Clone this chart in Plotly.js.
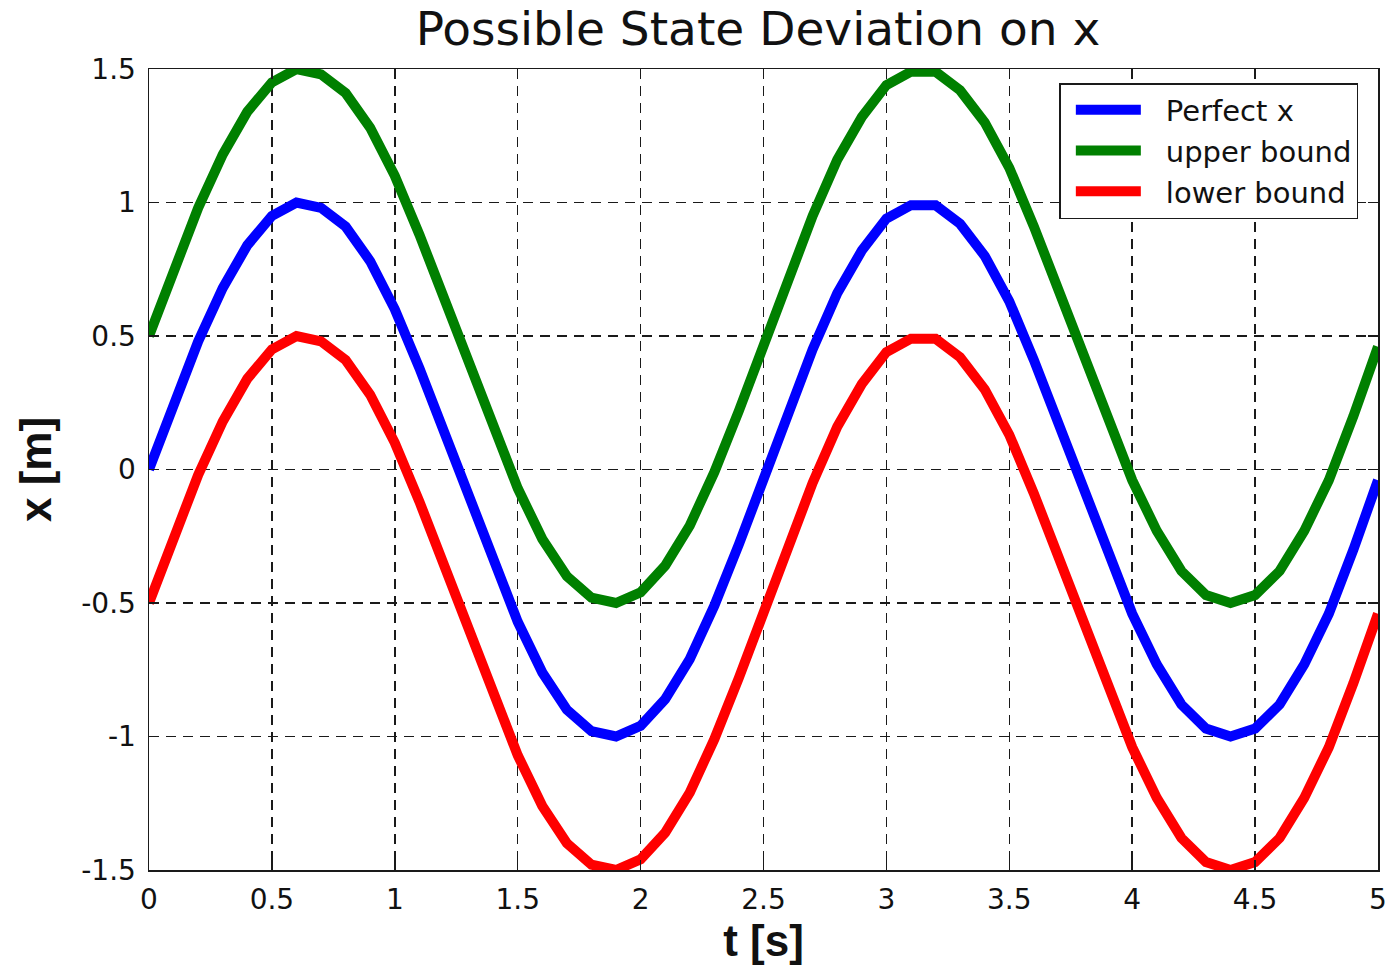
<!DOCTYPE html>
<html>
<head>
<meta charset="utf-8">
<script src="https://cdn.plot.ly/plotly-3.0.1.min.js"></script>
<style>
  html, body { margin: 0; padding: 0; background: #ffffff; }
  #chart { width: 1391px; height: 971px; }
</style>
</head>
<body>
<div id="chart"></div>
<script>
// Time samples [s]
const timeS = [0.0, 0.1, 0.2, 0.3, 0.4, 0.5, 0.6, 0.7, 0.8, 0.9,
               1.0, 1.1, 1.2, 1.3, 1.4, 1.5, 1.6, 1.7, 1.8, 1.9,
               2.0, 2.1, 2.2, 2.3, 2.4, 2.5, 2.6, 2.7, 2.8, 2.9,
               3.0, 3.1, 3.2, 3.3, 3.4, 3.5, 3.6, 3.7, 3.8, 3.9,
               4.0, 4.1, 4.2, 4.3, 4.4, 4.5, 4.6, 4.7, 4.8, 4.9, 5.0];

// Ideal state trajectory x(t) [m]
const perfectX = [0.00, 0.25, 0.48, 0.68, 0.84, 0.95, 1.00, 0.98, 0.91, 0.78,
                  0.60, 0.38, 0.14, -0.11, -0.35, -0.57, -0.76, -0.90, -0.98, -1.00,
                  -0.96, -0.86, -0.71, -0.51, -0.28, -0.03, 0.22, 0.45, 0.66, 0.82,
                  0.94, 0.99, 0.99, 0.92, 0.80, 0.63, 0.41, 0.17, -0.08, -0.32,
                  -0.54, -0.73, -0.88, -0.97, -1.00, -0.97, -0.88, -0.73, -0.54, -0.30, -0.04];

// Upper deviation bound [m]
const upperBound = [0.50, 0.75, 0.98, 1.18, 1.34, 1.45, 1.50, 1.48, 1.41, 1.28,
                    1.10, 0.88, 0.64, 0.39, 0.15, -0.07, -0.26, -0.40, -0.48, -0.50,
                    -0.46, -0.36, -0.21, -0.01, 0.22, 0.47, 0.72, 0.95, 1.16, 1.32,
                    1.44, 1.49, 1.49, 1.42, 1.30, 1.13, 0.91, 0.67, 0.42, 0.18,
                    -0.04, -0.23, -0.38, -0.47, -0.50, -0.47, -0.38, -0.23, -0.04, 0.20, 0.46];

// Lower deviation bound [m]
const lowerBound = [-0.50, -0.25, -0.02, 0.18, 0.34, 0.45, 0.50, 0.48, 0.41, 0.28,
                    0.10, -0.12, -0.36, -0.61, -0.85, -1.07, -1.26, -1.40, -1.48, -1.50,
                    -1.46, -1.36, -1.21, -1.01, -0.78, -0.53, -0.28, -0.05, 0.16, 0.32,
                    0.44, 0.49, 0.49, 0.42, 0.30, 0.13, -0.09, -0.33, -0.58, -0.82,
                    -1.04, -1.23, -1.38, -1.47, -1.50, -1.47, -1.38, -1.23, -1.04, -0.80, -0.54];

const seriesNames = ['Perfect x', 'upper bound', 'lower bound'];

const xTickVals = [0, 0.5, 1, 1.5, 2, 2.5, 3, 3.5, 4, 4.5, 5];
const xTickText = ['0', '0.5', '1', '1.5', '2', '2.5', '3', '3.5', '4', '4.5', '5'];
const yTickVals = [-1.5, -1, -0.5, 0, 0.5, 1, 1.5];
const yTickText = ['-1.5', '-1', '-0.5', '0', '0.5', '1', '1.5'];

const lineStyle = (color) => ({ color: color, width: 10, shape: 'linear' });

const traces = [
  { x: timeS, y: perfectX,   name: seriesNames[0], mode: 'lines', line: lineStyle('#0000ff') },
  { x: timeS, y: upperBound, name: seriesNames[1], mode: 'lines', line: lineStyle('#008000') },
  { x: timeS, y: lowerBound, name: seriesNames[2], mode: 'lines', line: lineStyle('#ff0000') }
];

const tickFont = { family: 'DejaVu Sans, Arial, sans-serif', size: 28, color: '#111111' };
const labelFont = { family: 'Liberation Sans, Arial, sans-serif', size: 44, color: '#111111', weight: 'bold' };

const axisCommon = {
  showline: true,
  linecolor: '#1a1a1a',
  linewidth: 1.5,
  mirror: 'ticks',
  ticks: 'inside',
  ticklen: 10,
  tickwidth: 1.5,
  tickcolor: '#1a1a1a',
  showgrid: true,
  gridcolor: '#1a1a1a',
  gridwidth: 1.5,
  griddash: '10px,7px',
  zeroline: false,
  tickmode: 'array',
  tickfont: tickFont,
  automargin: false,
  fixedrange: true
};

const layout = {
  width: 1391,
  height: 971,
  paper_bgcolor: '#ffffff',
  plot_bgcolor: '#ffffff',
  margin: { l: 149, r: 13, t: 69, b: 101 },
  showlegend: true,
  title: {
    text: 'Possible State Deviation on x',
    font: { family: 'DejaVu Sans, Arial, sans-serif', size: 47, color: '#111111' },
    xref: 'paper', x: 0.4955, xanchor: 'center',
    yref: 'container', y: 1 - 29 / 971, yanchor: 'middle'
  },
  xaxis: Object.assign({}, axisCommon, {
    range: [0, 5],
    tickvals: xTickVals,
    ticktext: xTickText,
    ticklabelstandoff: 4,
    title: { text: 't [s]', font: labelFont, standoff: 8 }
  }),
  yaxis: Object.assign({}, axisCommon, {
    range: [-1.5, 1.5],
    tickvals: yTickVals,
    ticktext: yTickText,
    ticklabelstandoff: 6,
    title: { text: 'x [m]', font: labelFont, standoff: 16 }
  }),
  legend: {
    x: 0.984, xanchor: 'right', xref: 'paper',
    y: 0.9825, yanchor: 'top', yref: 'paper',
    bgcolor: '#ffffff',
    bordercolor: '#1a1a1a',
    borderwidth: 1.5,
    font: { family: 'DejaVu Sans, Arial, sans-serif', size: 29, color: '#111111' },
    itemwidth: 95,
    tracegroupgap: 0
  }
};

Plotly.newPlot('chart', traces, layout, { displayModeBar: false, staticPlot: true })
  .then(function (gd) {
    // Shorter legend swatches, leaving a clear gap before each label
    gd.querySelectorAll('.legend .legendlines path').forEach(function (p) {
      p.setAttribute('d', 'M15,0h65');
    });
  });
</script>
</body>
</html>
